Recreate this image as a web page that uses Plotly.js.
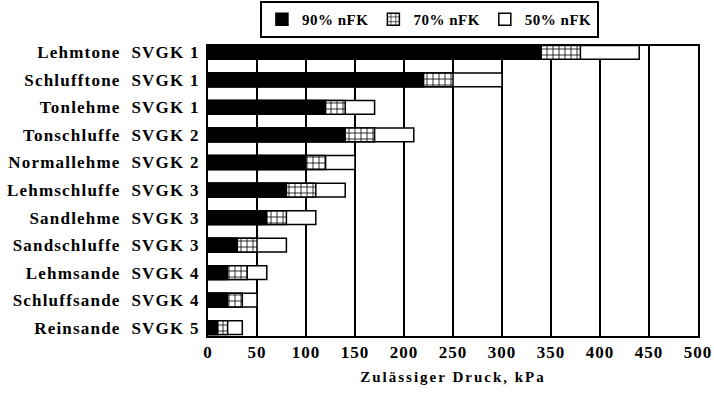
<!DOCTYPE html>
<html>
<head>
<meta charset="utf-8">
<script src="https://cdn.plot.ly/plotly-3.0.1.min.js"></script>
<style>
html,body{margin:0;padding:0;background:#fff;}
#chart{width:714px;height:394px;}
.ytick text{letter-spacing:1.2px;}
.xtick text{letter-spacing:1px;}
.g-xtitle text{letter-spacing:2px;}
.legendtext{letter-spacing:0.5px;}
</style>
</head>
<body>
<div id="chart"></div>
<script>
// Categories (top to bottom)
var categories = [
  "Lehmtone  SVGK 1",
  "Schlufftone  SVGK 1",
  "Tonlehme  SVGK 1",
  "Tonschluffe  SVGK 2",
  "Normallehme  SVGK 2",
  "Lehmschluffe  SVGK 3",
  "Sandlehme  SVGK 3",
  "Sandschluffe  SVGK 3",
  "Lehmsande  SVGK 4",
  "Schluffsande  SVGK 4",
  "Reinsande  SVGK 5"
];
// Permissible pressure (kPa) at given soil moisture
var nfk90 = [340, 220, 120, 140, 100, 80, 60, 30, 20, 20, 10];
var nfk70 = [380, 250, 140, 170, 120, 110, 80, 50, 40, 35, 20];
var nfk50 = [440, 300, 170, 210, 150, 140, 110, 80, 60, 50, 35];
var seriesNames = ["50% nFK", "70% nFK", "90% nFK"];
var xTicks = [0, 50, 100, 150, 200, 250, 300, 350, 400, 450, 500];

var fontFam = "Liberation Serif, Times New Roman, serif";
var lineStyle = {color: "#000", width: 1.5};

var traces = [
  {type: "bar", orientation: "h", name: seriesNames[0], y: categories, x: nfk50,
   width: 0.5, marker: {color: "#fff", line: lineStyle}},
  {type: "bar", orientation: "h", name: seriesNames[1], y: categories, x: nfk70,
   width: 0.5, marker: {color: "#fff", line: lineStyle,
     pattern: {shape: "+", fgcolor: "#000", bgcolor: "#fff", size: 6, solidity: 0.25}}},
  {type: "bar", orientation: "h", name: seriesNames[2], y: categories, x: nfk90,
   width: 0.5, marker: {color: "#000", line: lineStyle}}
];

var layout = {
  width: 714, height: 394,
  margin: {l: 208, r: 16, t: 46, b: 58, autoexpand: false},
  paper_bgcolor: "#fff", plot_bgcolor: "#fff",
  barmode: "overlay",
  font: {family: fontFam, color: "#000", size: 15, weight: "bold"},
  xaxis: {
    range: [0, 500], tickvals: xTicks, ticktext: xTicks.map(String),
    showgrid: true, gridcolor: "#000", gridwidth: 1.5,
    showline: true, linecolor: "#000", linewidth: 2, mirror: true,
    ticks: "inside", ticklen: 3, tickcolor: "#000",
    zeroline: false, fixedrange: true,
    tickfont: {family: fontFam, size: 17, weight: "bold"},
    title: {text: "Zulässiger Druck, kPa", standoff: 10,
            font: {family: fontFam, size: 15, weight: "bold"}}
  },
  yaxis: {
    type: "category", range: [10.3, -0.23],
    showgrid: false, showline: true, linecolor: "#000", linewidth: 2, mirror: true,
    ticks: "", zeroline: false, fixedrange: true,
    tickfont: {family: fontFam, size: 17, weight: "bold"},
    ticklabelstandoff: 3
  },
  showlegend: true,
  legend: {
    orientation: "h", traceorder: "reversed",
    x: 0.106, xanchor: "left", y: 1.155, yanchor: "top",
    bordercolor: "#000", borderwidth: 2, bgcolor: "#fff",
    font: {family: fontFam, size: 15, weight: "bold"},
    itemwidth: 30, tracegroupgap: 0
  }
};

Plotly.newPlot("chart", traces, layout, {staticPlot: true, displayModeBar: false});
</script>
</body>
</html>
